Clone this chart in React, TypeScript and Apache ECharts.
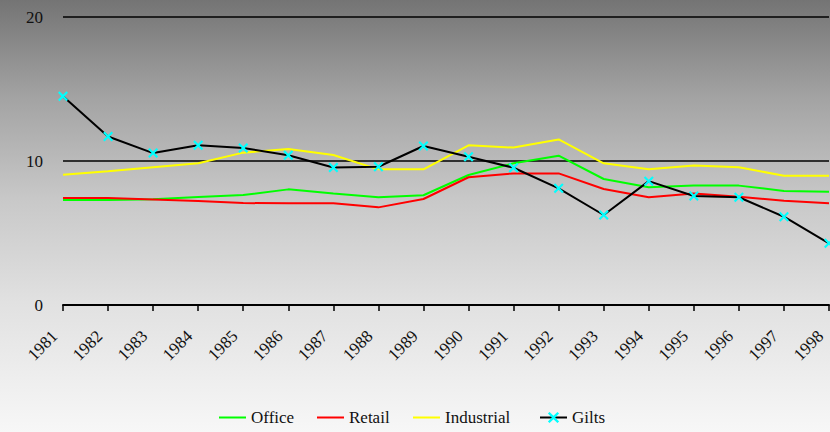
import React, { useEffect, useRef } from "react";
import * as echarts from "echarts";

const years = ["1981","1982","1983","1984","1985","1986","1987","1988","1989","1990","1991","1992","1993","1994","1995","1996","1997","1998"];
const office = [7.3, 7.3, 7.35, 7.5, 7.64, 8.03, 7.75, 7.48, 7.62, 9.03, 9.84, 10.37, 8.75, 8.17, 8.29, 8.29, 7.92, 7.87];
const retail = [7.43, 7.43, 7.33, 7.22, 7.08, 7.06, 7.06, 6.78, 7.36, 8.87, 9.14, 9.14, 8.06, 7.48, 7.75, 7.52, 7.24, 7.06];
const industrial = [9.05, 9.28, 9.56, 9.84, 10.58, 10.83, 10.42, 9.42, 9.42, 11.09, 10.93, 11.5, 9.84, 9.42, 9.68, 9.56, 8.98, 8.98];
const gilts = [14.5, 11.7, 10.55, 11.1, 10.9, 10.4, 9.55, 9.6, 11.04, 10.3, 9.53, 8.1, 6.25, 8.6, 7.57, 7.48, 6.13, 4.28];
const yTicks = { min: 0, max: 20, interval: 10 };

const FONT = "Liberation Serif";
const XMARK = "path://M0,1.5L1.5,0L5,3.5L8.5,0L10,1.5L6.5,5L10,8.5L8.5,10L5,6.5L1.5,10L0,8.5L3.5,5Z";

export default function App() {
  const ref = useRef<HTMLDivElement>(null);
  useEffect(() => {
    document.body.style.margin = "0";
    if (!ref.current) return;
    const el = ref.current;
    const chart = echarts.init(el, null, { renderer: "svg" });
    const textStyle = { fontFamily: FONT, fontSize: 16, color: "#111" };
    const legendBase = (name: string, left: number, lineOnly: boolean) => ({
      data: [name],
      left,
      top: 409,
      padding: 0,
      itemWidth: 27,
      itemHeight: lineOnly ? 2 : 14,
      icon: lineOnly ? "rect" : undefined,
      textStyle: { ...textStyle, fontSize: 17 },
      itemGap: 0,
    });
    chart.setOption({
      animation: false,
      textStyle: { fontFamily: FONT },
      grid: { left: 63, right: 1, top: 17, bottom: 127, containLabel: false },
      legend: [
        legendBase("Office", 219, true),
        legendBase("Retail", 317, true),
        legendBase("Industrial", 413, true),
        legendBase("Gilts", 539, false),
      ],
      xAxis: {
        type: "category",
        data: years,
        boundaryGap: false,
        axisLine: { lineStyle: { color: "#000", width: 2 } },
        axisTick: { show: true, length: 6, interval: 0, lineStyle: { color: "#000", width: 1.5 } },
        axisLabel: { ...textStyle, fontSize: 17, rotate: 45, interval: 0, margin: 20, padding: [0, 12, 0, 0] },
        splitLine: { show: false },
      },
      yAxis: {
        type: "value",
        min: yTicks.min,
        max: yTicks.max,
        interval: yTicks.interval,
        axisLine: { show: false },
        axisTick: { show: false },
        axisLabel: { ...textStyle, fontSize: 17, margin: 20 },
        splitLine: { show: true, lineStyle: { color: "#000", width: 1.5 } },
      },
      series: [
        { name: "Office", type: "line", data: office, symbol: "none", color: "#00ff00", lineStyle: { color: "#00ff00", width: 2 } },
        { name: "Retail", type: "line", data: retail, symbol: "none", color: "#ff0000", lineStyle: { color: "#ff0000", width: 2 } },
        { name: "Industrial", type: "line", data: industrial, symbol: "none", color: "#ffff00", lineStyle: { color: "#ffff00", width: 2 } },
        {
          name: "Gilts", type: "line", data: gilts, symbol: XMARK, symbolSize: 10,
          itemStyle: { color: "#00ffff" }, lineStyle: { color: "#000", width: 2 },
        },
      ],
    });
    return () => chart.dispose();
  }, []);
  return (
    <div
      ref={ref}
      style={{
        width: 830,
        height: 432,
        background: "linear-gradient(to bottom, #747474 0%, #a2a2a2 22%, #c8c8c8 46%, #e1e1e1 70%, #f7f7f7 100%)",
      }}
    />
  );
}
